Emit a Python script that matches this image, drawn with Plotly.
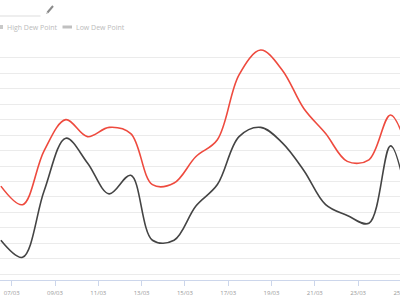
import plotly.graph_objects as go
import pandas as pd

# ---- data (dew points, noon readings) ----
dates = pd.date_range("2025-03-06 12:00", periods=20, freq="D")
high_dew = [3.7, 2.5, 6.0, 8.0, 6.9, 7.5, 7.1, 3.8, 3.9, 5.6,
            6.7, 10.9, 12.5, 11.2, 8.7, 7.1, 5.3, 5.4, 8.3, 5.0]
low_dew = [0.2, -0.9, 3.4, 6.8, 5.2, 3.2, 4.4, 0.2, 0.2, 2.4,
           3.8, 6.9, 7.5, 6.5, 4.7, 2.5, 1.8, 1.3, 6.3, 1.0]
series_names = ["High Dew Point", "Low Dew Point"]

W, H = 440, 300
ML, MR, MT, MB = 0, 0, 42, 20
plot_h = H - MT - MB


def px(x):
    return (x - ML) / (W - ML - MR)


def py(y):
    return (H - MB - y) / plot_h


fig = go.Figure()
fig.add_trace(go.Scatter(x=dates, y=high_dew, name=series_names[0], mode="lines",
                         line=dict(color="#ee4a3e", width=1.6, shape="spline", smoothing=1.0)))
fig.add_trace(go.Scatter(x=dates, y=low_dew, name=series_names[1], mode="lines",
                         line=dict(color="#444444", width=1.6, shape="spline", smoothing=1.0)))

fig.update_layout(
    width=W, height=H,
    margin=dict(l=ML, r=MR, t=MT, b=MB, pad=0),
    paper_bgcolor="white", plot_bgcolor="white",
    showlegend=False,
    font=dict(family="Open Sans, Lato, sans-serif", color="#999999"),
    xaxis=dict(
        range=["2025-03-06 11:02", "2025-03-26 18:47"],
        tickformat="%d/%m", tick0="2025-03-07", dtick=2 * 86400000,
        showgrid=False, showline=True, linecolor="#ccd6eb", linewidth=1,
        ticks="outside", ticklen=5, tickcolor="#ccd6eb", tickwidth=1,
        ticklabelstandoff=2,
        tickfont=dict(size=6, color="#999999"),
    ),
    yaxis=dict(
        range=[-2.37, 13.02], dtick=1, tick0=0,
        showgrid=True, gridcolor="#ebebeb", gridwidth=1,
        zeroline=False, showticklabels=False, ticks="",
    ),
)

# legend drawn as text + swatches
fig.add_annotation(x=px(4.5), y=py(27), xref="paper", yref="paper", text=series_names[0],
                   showarrow=False, xanchor="left", yanchor="middle",
                   font=dict(size=7, color="#bbbbbb"))
fig.add_annotation(x=px(74), y=py(27), xref="paper", yref="paper", text=series_names[1],
                   showarrow=False, xanchor="left", yanchor="middle",
                   font=dict(size=7, color="#bbbbbb"))
fig.add_shape(type="rect", xref="paper", yref="paper", x0=px(-1), x1=px(3), y0=py(29), y1=py(25),
              fillcolor="#c8c8c8", line=dict(width=0))
fig.add_shape(type="rect", xref="paper", yref="paper", x0=px(62.5), x1=px(72), y0=py(28.5), y1=py(25.5),
              fillcolor="#c0c0c0", line=dict(width=0))

# title input underline and edit pencil icon
fig.add_shape(type="line", xref="paper", yref="paper", x0=px(0), x1=px(40.5), y0=py(16), y1=py(16),
              line=dict(color="#dddddd", width=1))
fig.add_shape(type="line", xref="paper", yref="paper", x0=px(47.5), x1=px(53), y0=py(12.5), y1=py(6),
              line=dict(color="#8a8a8a", width=2))
fig.add_shape(type="line", xref="paper", yref="paper", x0=px(46.5), x1=px(47.6), y0=py(13.6), y1=py(12.4),
              line=dict(color="#aaaaaa", width=1.2))

fig.write_html("out.html", post_script="document.documentElement.style.overflow='hidden';document.body.style.overflow='hidden';")
